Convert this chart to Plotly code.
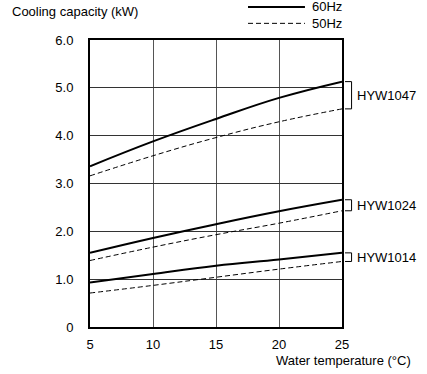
import plotly.graph_objects as go

temps = [5, 10, 15, 20, 25]
models = ["HYW1047", "HYW1024", "HYW1014"]
cap_60hz = {
    "HYW1047": [3.36, 3.88, 4.35, 4.79, 5.13],
    "HYW1024": [1.55, 1.86, 2.15, 2.42, 2.66],
    "HYW1014": [0.93, 1.11, 1.28, 1.41, 1.55],
}
cap_50hz = {
    "HYW1047": [3.16, 3.58, 3.96, 4.29, 4.56],
    "HYW1024": [1.39, 1.67, 1.93, 2.17, 2.43],
    "HYW1014": [0.71, 0.87, 1.04, 1.21, 1.37],
}
y_ticks = [0, 1, 2, 3, 4, 5, 6]
y_tick_labels = ["0", "1.0", "2.0", "3.0", "4.0", "5.0", "6.0"]
x_ticks = [5, 10, 15, 20, 25]

FONT = "Liberation Sans, Arial, sans-serif"
FS = 13
DASH = "5px,3px"
fig = go.Figure()

for m in models:
    fig.add_trace(go.Scatter(x=temps, y=cap_60hz[m], mode="lines",
                             line=dict(color="black", width=2, shape="spline", smoothing=1.2),
                             showlegend=False, hoverinfo="skip"))
    fig.add_trace(go.Scatter(x=temps, y=cap_50hz[m], mode="lines",
                             line=dict(color="black", width=1, dash=DASH, shape="spline", smoothing=1.2),
                             showlegend=False, hoverinfo="skip"))

shapes = []
annotations = []
# brackets with model labels
for m in models:
    top = cap_60hz[m][-1]
    bot = cap_50hz[m][-1]
    shapes.append(dict(type="path", xref="paper", yref="y",
                       path=f"M 1.012 {top} L 1.038 {top} L 1.038 {bot} L 1.012 {bot}",
                       line=dict(color="black", width=1)))
    annotations.append(dict(text=m, xref="paper", yref="y", x=1.052, y=(top + bot) / 2,
                            xanchor="left", yanchor="middle", showarrow=False,
                            font=dict(size=FS, color="black", family=FONT)))

# legend
shapes.append(dict(type="line", xref="paper", yref="paper", x0=0.627, x1=0.853, y0=1.115, y1=1.115,
                   line=dict(color="black", width=2)))
shapes.append(dict(type="line", xref="paper", yref="paper", x0=0.627, x1=0.853, y0=1.058, y1=1.058,
                   line=dict(color="black", width=1, dash=DASH)))
annotations.append(dict(text="60Hz", xref="paper", yref="paper", x=0.873, y=1.115, xanchor="left",
                        yanchor="middle", showarrow=False, font=dict(size=FS, color="black", family=FONT)))
annotations.append(dict(text="50Hz", xref="paper", yref="paper", x=0.873, y=1.058, xanchor="left",
                        yanchor="middle", showarrow=False, font=dict(size=FS, color="black", family=FONT)))
# axis titles
annotations.append(dict(text="Cooling capacity (kW)", xref="paper", yref="paper", x=-0.317, y=1.101,
                        xanchor="left", yanchor="middle", showarrow=False,
                        font=dict(size=FS, color="black", family=FONT)))
annotations.append(dict(text="Water temperature (°C)", xref="paper", yref="paper", x=1.282, y=-0.118,
                        xanchor="right", yanchor="middle", showarrow=False,
                        font=dict(size=FS, color="black", family=FONT)))

fig.update_layout(
    width=427, height=374,
    margin=dict(l=90, r=85, t=40, b=47),
    plot_bgcolor="white", paper_bgcolor="white",
    font=dict(family=FONT, size=FS, color="black"),
    shapes=shapes, annotations=annotations,
    showlegend=False,
)
fig.update_xaxes(range=[5, 25], tickvals=x_ticks, showgrid=True, gridcolor="#555", gridwidth=1,
                 showline=True, linecolor="black", linewidth=2, mirror=True, zeroline=False,
                 ticks="", ticklabelstandoff=4, tickfont=dict(size=FS, color="black"))
fig.update_yaxes(range=[0, 6], tickvals=y_ticks, ticktext=y_tick_labels, showgrid=True,
                 gridcolor="#333", gridwidth=1, showline=True, linecolor="black", linewidth=2,
                 mirror=True, zeroline=False, ticks="", ticklabelstandoff=12,
                 tickfont=dict(size=FS, color="black"))

fig.write_html("out.html", config={"displayModeBar": False},
               post_script="document.body.style.margin='0px';")
